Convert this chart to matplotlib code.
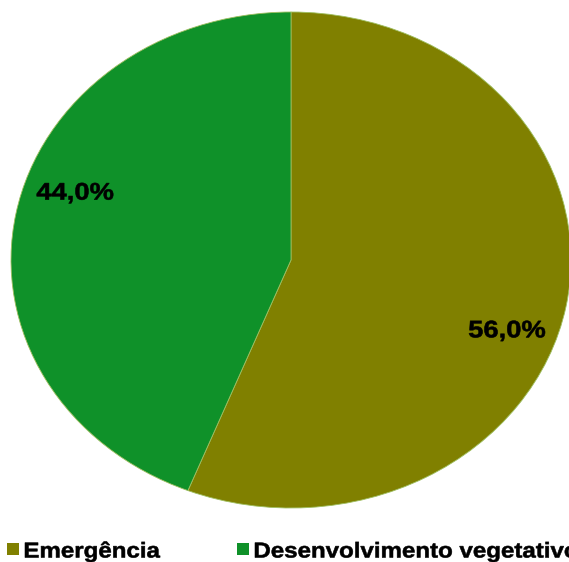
import numpy as np
import matplotlib
matplotlib.use("Agg")
import matplotlib.pyplot as plt
from matplotlib.textpath import TextPath
from matplotlib.patches import PathPatch, Rectangle
from matplotlib.font_manager import FontProperties
from matplotlib.transforms import Affine2D, IdentityTransform

# dados
fases = ['Emergência', 'Desenvolvimento vegetativo']
valores = [56.0, 44.0]
cores = ['#808000', '#0F9129']

W, H = 569, 562
fig = plt.figure(figsize=(W / 100, H / 100), dpi=100)
ax = fig.add_axes([0, 0, 1, 1])

# elipse: centro (291, 260) px a partir do topo, raios 280 x 248
cx, cy, rx, ry = 291, 260, 280, 248

wedges, _ = ax.pie(valores, colors=cores, startangle=90, counterclock=False,
                   wedgeprops=dict(linewidth=0.6, edgecolor='#9fbf60'))
ax.set_aspect('auto')
ax.set_xlim(-cx / rx, (W - cx) / rx)
ax.set_ylim(-(H - cy) / ry, cy / ry)
ax.axis('off')

fp = FontProperties(family=['Liberation Sans', 'Arial', 'DejaVu Sans'], weight='bold')


def texto_esticado(x, y, s, size, sx, ha='center'):
    # texto com largura esticada (como no original), y = linha de base em px do topo
    tp = TextPath((0, 0), s, size=size, prop=fp)
    bb = tp.get_extents()
    dx = -(bb.x0 + bb.x1) / 2 if ha == 'center' else -bb.x0
    tr = Affine2D().translate(dx, 0).scale(sx, 1).translate(x, H - y) + IdentityTransform()
    fig.add_artist(PathPatch(tp, transform=tr, facecolor='black',
                             edgecolor='black', linewidth=0.4))


# rótulos de porcentagem
for w, v in zip(wedges, valores):
    ang = np.deg2rad((w.theta1 + w.theta2) / 2 - 9)
    px = cx + 0.82 * rx * np.cos(ang)
    py = cy - 0.82 * ry * np.sin(ang)
    texto_esticado(px, py + 8.5, f'{v:.1f}%'.replace('.', ','), 24, 1.14)

# legenda
leg_x = [7, 237]
for x0, nome, cor in zip(leg_x, fases, cores):
    fig.add_artist(Rectangle((x0, H - 555), 12, 12, transform=IdentityTransform(),
                             facecolor=cor, edgecolor='none'))
    texto_esticado(x0 + 18, 557.5, nome, 21.5, 1.12, ha='left')

fig.savefig('out.png', dpi=100)
